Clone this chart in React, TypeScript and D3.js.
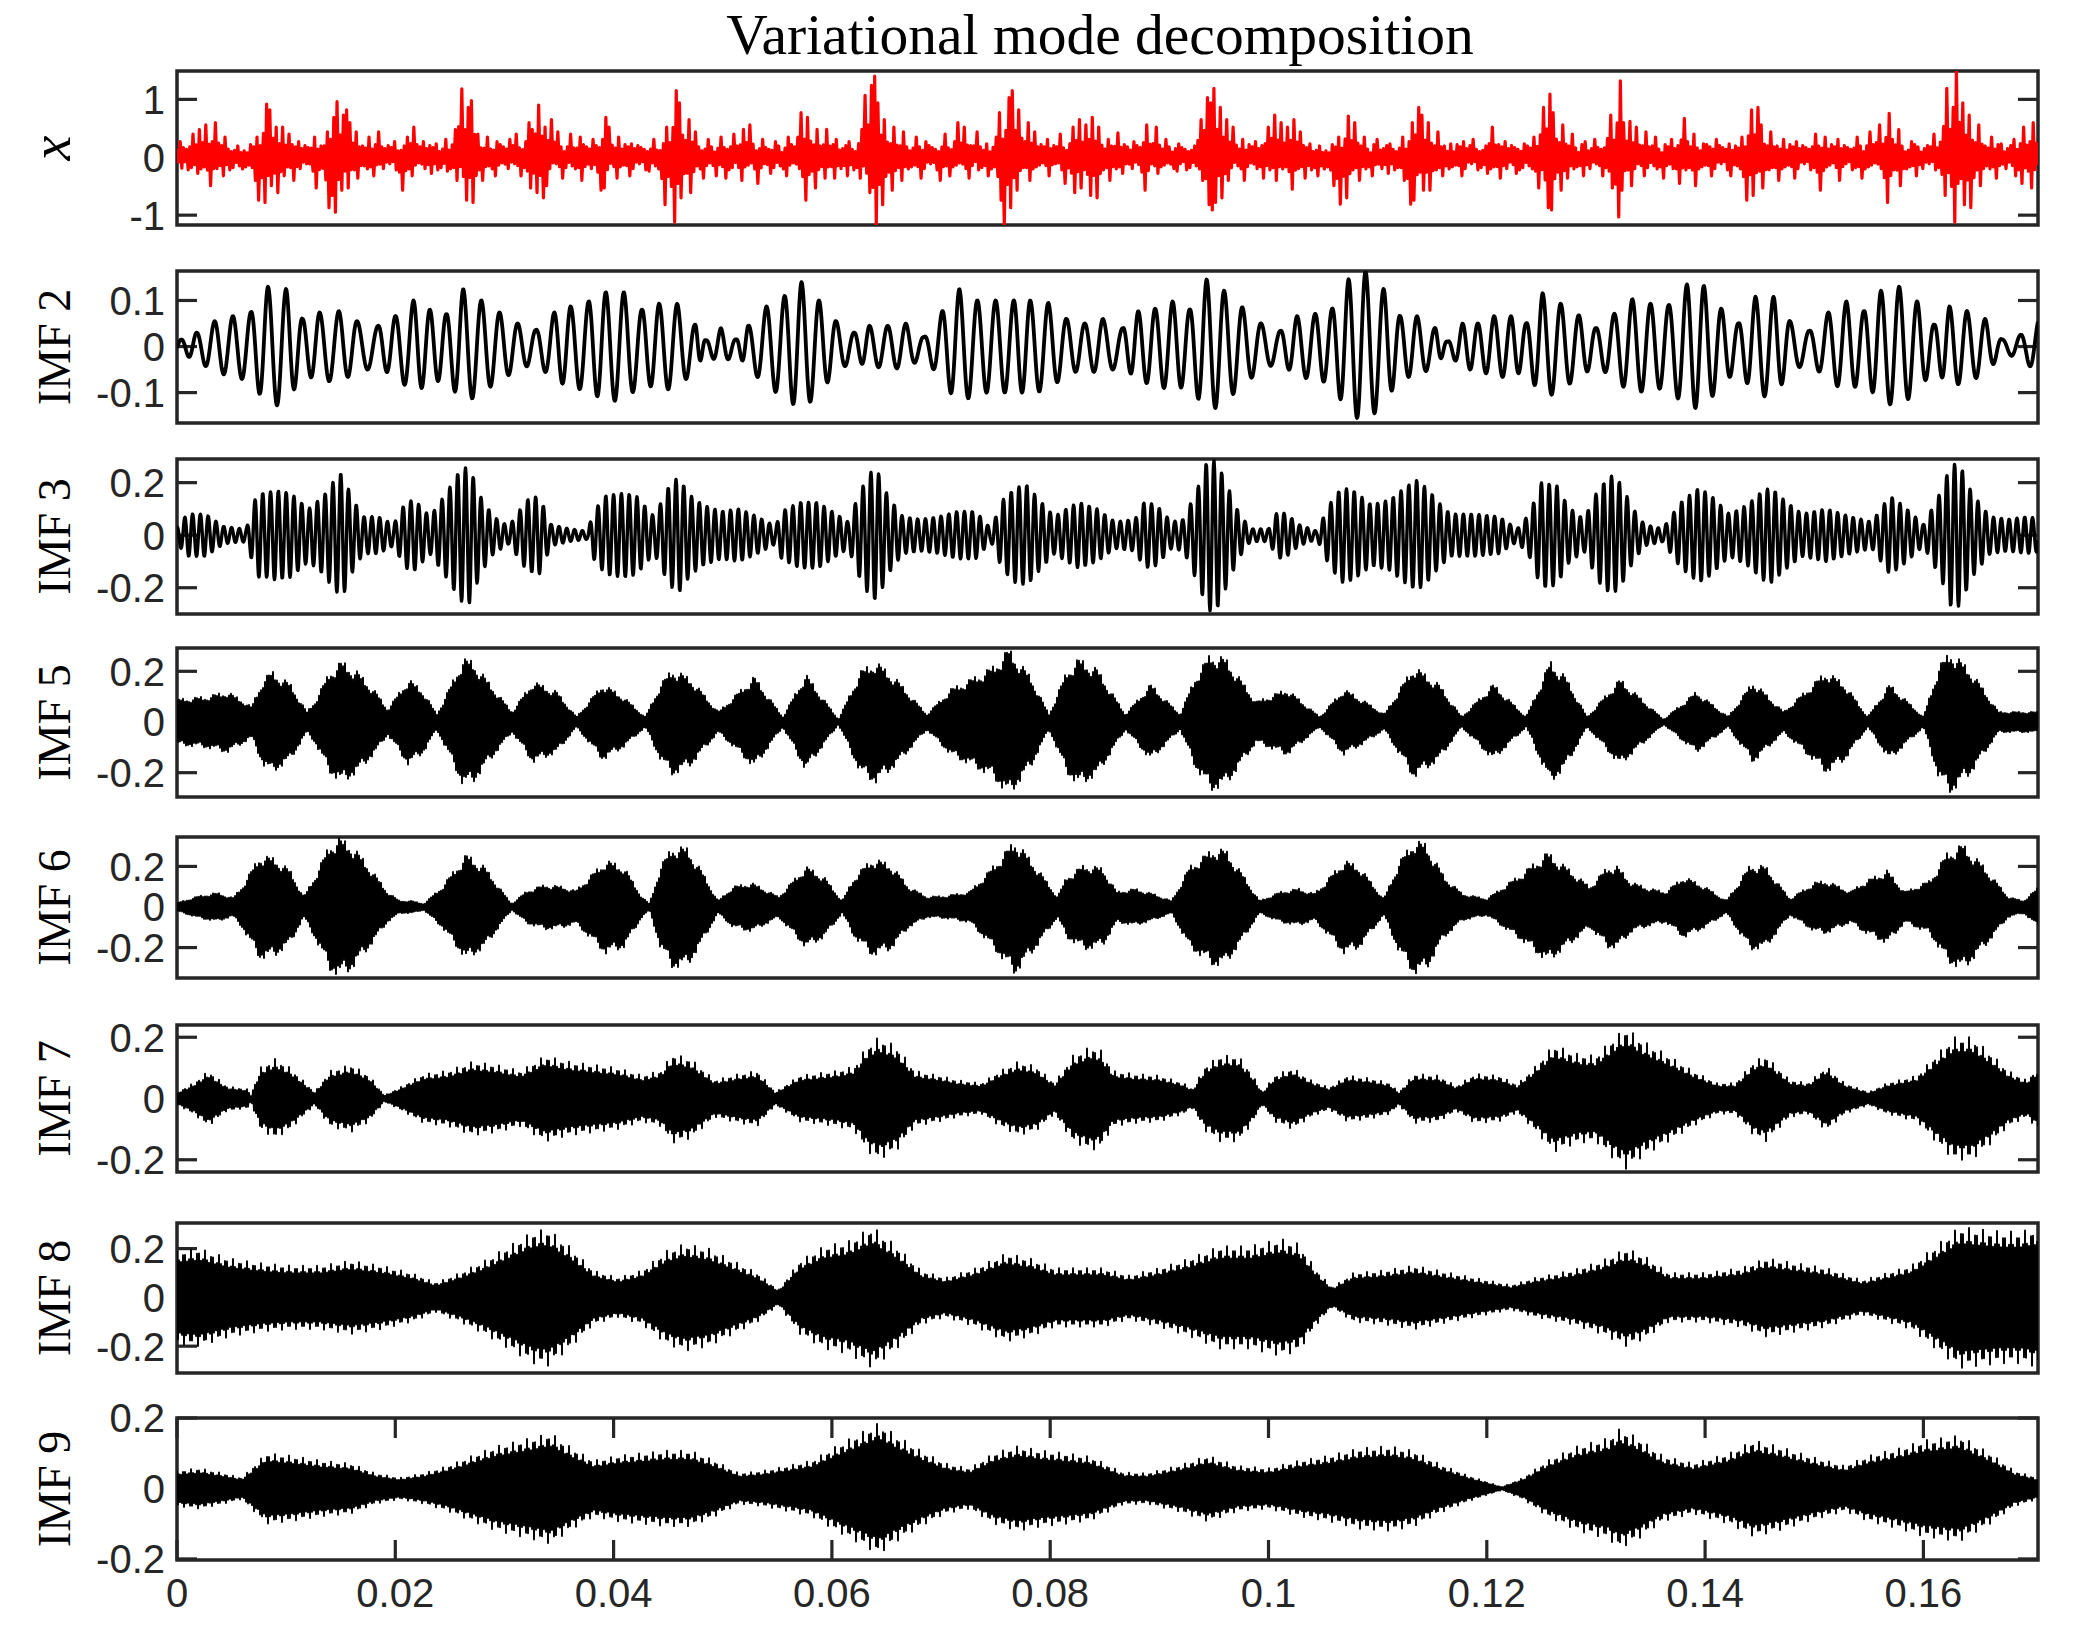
import React from "react";
import * as d3 from "d3";

// ---------------- Data ----------------
const TITLE = "Variational mode decomposition";
const X_END = 0.1705; // seconds, right limit shared by all axes
const X_TICKS = [0, 0.02, 0.04, 0.06, 0.08, 0.1, 0.12, 0.14, 0.16];
const X_TICK_LABELS = ["0", "0.02", "0.04", "0.06", "0.08", "0.1", "0.12", "0.14", "0.16"];

const PANEL_LABELS = ["x", "IMF 2", "IMF 3", "IMF 5", "IMF 6", "IMF 7", "IMF 8", "IMF 9"];
const Y_LIMITS: [number, number][] = [
  [-1.17, 1.49],
  [-0.166, 0.164],
  [-0.3, 0.29],
  [-0.296, 0.292],
  [-0.35, 0.345],
  [-0.24, 0.24],
  [-0.31, 0.305],
  [-0.203, 0.2],
];
const Y_TICKS: number[][] = [
  [-1, 0, 1],
  [-0.1, 0, 0.1],
  [-0.2, 0, 0.2],
  [-0.2, 0, 0.2],
  [-0.2, 0, 0.2],
  [-0.2, 0, 0.2],
  [-0.2, 0, 0.2],
  [-0.2, 0, 0.2],
];

// x (red): spikes [time ms, value]
const X_TOP_SPIKES: [number, number][] = [
  [0.39,0.27],[1.39,0.4],[2.06,0.48],[2.72,0.56],[3.44,0.6],[4.28,0.35],[7.33,0.35],[8.17,0.92],[8.44,0.82],[9.0,0.52],[9.56,0.52],[10.39,0.4],[11.06,0.27],[12.61,0.35],[13.72,0.44],[14.28,0.69],[14.72,0.96],[15.11,0.73],[15.67,0.82],[15.94,0.6],[16.5,0.44],[17.61,0.35],[18.44,0.44],[19.83,0.27],[21.22,0.35],[21.78,0.52],[22.61,0.27],[23.72,0.23],[24.56,0.31],[25.39,0.48],[26.22,1.18],[26.61,0.86],[27.06,0.98],[27.61,0.4],[28.44,0.35],[29.28,0.27],[30.39,0.31],[31.22,0.4],[32.33,0.6],[32.61,0.48],[33.17,0.9],[33.72,0.52],[34.39,0.65],[34.83,0.44],[35.94,0.4],[37.06,0.35],[38.17,0.31],[39.17,0.69],[39.56,0.52],[40.39,0.35],[41.5,0.23],[43.72,0.31],[44.83,0.52],[45.67,1.15],[46.06,0.94],[46.78,0.65],[47.61,0.44],[48.72,0.31],[49.83,0.35],[50.94,0.4],[51.78,0.48],[52.61,0.56],[53.72,0.31],[54.83,0.27],[55.94,0.35],[57.06,0.77],[57.89,0.69],[58.72,0.48],[59.56,0.48],[60.39,0.31],[61.5,0.27],[62.61,0.23],[63.17,1.07],[63.72,1.24],[64.0,1.4],[64.28,0.94],[64.83,0.65],[65.67,0.52],[66.5,0.44],[67.61,0.35],[68.72,0.27],[70.39,0.4],[71.5,0.6],[72.06,0.52],[73.17,0.44],[74.28,0.23],[75.39,0.77],[76.22,1.03],[76.61,1.15],[77.06,0.82],[77.89,0.6],[78.72,0.44],[79.83,0.31],[80.94,0.4],[82.06,0.52],[82.61,0.65],[83.28,0.56],[84.0,0.69],[84.56,0.52],[85.39,0.31],[86.3,0.42],[87.56,0.27],[88.89,0.56],[89.72,0.52],[90.56,0.31],[91.67,0.23],[93.89,0.65],[94.33,1.03],[94.72,0.94],[95.11,1.19],[95.56,0.86],[96.11,0.65],[96.67,0.52],[97.78,0.31],[98.89,0.27],[100.0,0.52],[100.56,0.73],[101.11,0.6],[101.67,0.52],[102.22,0.65],[102.78,0.44],[103.89,0.23],[106.39,0.35],[107.22,0.71],[107.78,0.6],[108.89,0.35],[110.0,0.31],[111.11,0.23],[112.22,0.35],[113.06,0.6],[113.78,0.86],[114.17,0.73],[114.72,0.6],[115.56,0.44],[116.67,0.23],[117.78,0.27],[118.89,0.31],[120.56,0.52],[121.67,0.27],[123.33,0.23],[124.44,0.35],[125.28,0.86],[125.83,1.09],[126.22,0.77],[126.94,0.56],[127.78,0.4],[128.89,0.27],[130.0,0.31],[131.39,0.73],[132.11,1.32],[132.5,0.6],[133.22,0.62],[133.61,0.52],[134.44,0.44],[135.56,0.35],[136.94,0.31],[138.11,0.67],[138.89,0.4],[140.0,0.23],[141.11,0.31],[142.22,0.23],[143.33,0.35],[144.17,0.82],[144.72,0.86],[145.28,0.56],[146.11,0.44],[147.22,0.31],[148.33,0.27],[150.0,0.4],[151.11,0.35],[152.22,0.31],[153.89,0.35],[155.0,0.44],[156.11,0.56],[156.94,0.76],[157.78,0.48],[158.89,0.27],[161.11,0.4],[162.11,1.19],[162.61,0.86],[163.06,1.49],[163.61,0.94],[164.33,0.73],[165.0,0.56],[166.11,0.35],[167.22,0.23],[168.33,0.31],[169.17,0.52],[170.0,0.6],
];
const X_BOTTOM_SPIKES: [number, number][] = [
  [0.39,-0.19],[1.78,-0.28],[3.17,-0.49],[4.28,-0.32],[7.06,-0.4],[7.5,-0.74],[8.17,-0.78],[8.61,-0.49],[9.28,-0.61],[9.94,-0.32],[10.67,-0.4],[12.89,-0.53],[13.83,-0.87],[14.17,-0.66],[14.56,-0.95],[15.11,-0.57],[15.83,-0.53],[16.5,-0.36],[18.17,-0.32],[20.67,-0.57],[21.5,-0.32],[23.17,-0.28],[24.83,-0.24],[25.67,-0.4],[26.61,-0.74],[27.06,-0.78],[27.89,-0.4],[29.28,-0.32],[31.5,-0.32],[32.33,-0.53],[32.89,-0.61],[33.44,-0.7],[34.0,-0.49],[35.39,-0.36],[37.06,-0.4],[38.72,-0.57],[39.28,-0.53],[40.39,-0.36],[41.5,-0.32],[43.17,-0.24],[44.72,-0.82],[45.5,-1.12],[46.22,-0.7],[47.06,-0.61],[48.17,-0.36],[49.28,-0.32],[50.39,-0.36],[51.78,-0.4],[53.17,-0.45],[54.28,-0.28],[55.94,-0.32],[57.72,-0.74],[58.44,-0.53],[59.28,-0.36],[60.39,-0.36],[61.5,-0.32],[62.61,-0.36],[63.44,-0.61],[64.11,-1.16],[64.56,-0.82],[65.39,-0.57],[66.5,-0.4],[68.17,-0.36],[69.83,-0.4],[70.94,-0.32],[72.61,-0.36],[74.28,-0.32],[75.5,-0.74],[75.83,-1.16],[76.5,-0.87],[77.06,-0.57],[78.17,-0.4],[79.83,-0.32],[81.5,-0.45],[82.33,-0.61],[82.89,-0.53],[83.72,-0.66],[84.28,-0.7],[85.39,-0.4],[86.67,-0.28],[88.61,-0.57],[90.0,-0.28],[91.67,-0.24],[94.0,-0.4],[94.44,-0.82],[94.83,-0.91],[95.28,-0.78],[95.83,-0.7],[96.39,-0.4],[97.78,-0.4],[99.44,-0.36],[100.83,-0.4],[102.11,-0.55],[103.33,-0.36],[104.44,-0.32],[106.11,-0.49],[106.56,-0.81],[107.22,-0.7],[108.33,-0.4],[109.44,-0.32],[111.11,-0.28],[112.5,-0.4],[112.89,-0.81],[113.44,-0.74],[114.17,-0.57],[114.89,-0.57],[116.11,-0.32],[117.78,-0.32],[120.0,-0.28],[121.11,-0.36],[122.78,-0.28],[124.72,-0.53],[125.56,-0.87],[126.0,-0.91],[126.67,-0.57],[127.5,-0.36],[128.89,-0.32],[130.56,-0.32],[131.56,-0.53],[132.11,-1.03],[132.5,-0.57],[133.33,-0.49],[134.44,-0.32],[136.11,-0.36],[137.78,-0.45],[139.17,-0.49],[140.56,-0.32],[142.22,-0.32],[143.78,-0.74],[144.44,-0.66],[145.28,-0.53],[146.67,-0.4],[148.33,-0.36],[150.56,-0.57],[152.22,-0.4],[154.44,-0.36],[156.67,-0.78],[157.78,-0.49],[159.44,-0.32],[162.11,-0.66],[162.89,-1.12],[163.61,-0.82],[164.33,-0.87],[165.28,-0.49],[166.67,-0.36],[168.33,-0.32],[169.17,-0.45],[170.0,-0.53],
];
const X_BAND = 0.15; // half-width of the dense red core
const X_BAND_TEXTURE = [1, 0.55, 1.35, 0.75, 1.1, 0.5, 0.9, 1.45, 0.65, 1.2, 0.8, 0.6, 1.3];
const X_SPIKE_SHOULDERS = [0.45, 0.22]; // neighbours of a spike (same sign), as a fraction of it

// IMF 2: individual peaks [time ms, amplitude]
const IMF2_PEAKS: [number, number][] = [
  [0.39,0.015],[1.78,0.03],[3.44,0.055],[5.11,0.066],[6.78,0.075],[8.33,0.13],[10.0,0.125],[11.5,0.06],[13.06,0.074],[14.83,0.077],[16.5,0.055],[18.44,0.045],[20.0,0.066],[21.67,0.1],[23.17,0.08],[24.67,0.07],[26.22,0.125],[27.89,0.1],[29.56,0.074],[31.22,0.05],[32.89,0.036],[34.56,0.074],[36.06,0.087],[37.72,0.098],[39.28,0.118],[40.94,0.118],[42.61,0.08],[44.17,0.093],[45.83,0.093],[47.5,0.047],[48.44,0.013],[49.83,0.04],[51.22,0.015],[52.33,0.045],[54.0,0.087],[55.67,0.11],[57.22,0.14],[58.83,0.1],[60.39,0.055],[62.06,0.03],[63.44,0.045],[65.11,0.045],[66.78,0.05],[68.44,0.02],[70.11,0.077],[71.67,0.125],[73.33,0.1],[75.0,0.1],[76.67,0.1],[78.17,0.1],[79.83,0.095],[81.5,0.06],[83.17,0.05],[84.83,0.06],[86.67,0.04],[88.06,0.077],[89.61,0.082],[91.22,0.098],[92.78,0.08],[94.33,0.146],[95.94,0.121],[97.61,0.085],[99.33,0.05],[101.11,0.034],[102.61,0.066],[104.28,0.071],[105.83,0.082],[107.33,0.146],[108.89,0.164],[110.56,0.125],[112.06,0.066],[113.61,0.066],[115.28,0.04],[116.39,0.01],[117.78,0.05],[119.17,0.05],[120.67,0.066],[122.22,0.066],[123.61,0.05],[125.11,0.116],[126.78,0.093],[128.44,0.068],[130.0,0.04],[131.67,0.071],[133.33,0.103],[135.0,0.093],[136.67,0.09],[138.33,0.135],[139.89,0.132],[141.5,0.082],[143.06,0.05],[144.61,0.108],[146.28,0.108],[147.78,0.055],[149.56,0.034],[151.28,0.074],[152.94,0.098],[154.56,0.077],[156.11,0.121],[157.78,0.13],[159.44,0.098],[161.0,0.047],[162.39,0.087],[164.0,0.077],[165.67,0.06],[167.22,0.015],[168.89,0.025],[170.6,0.06],
];

// IMF 3: envelope [time ms, amplitude], oscillation frequency (Hz)
const IMF3_FREQ = 1400;
const IMF3_ENVELOPE: [number, number][] = [
  [0,0.03],[0.94,0.08],[2.61,0.08],[4.28,0.033],[5.94,0.024],[6.39,0.03],[7.33,0.16],[8.17,0.16],[9.0,0.17],[10.39,0.16],[12.06,0.1],[13.44,0.15],[14.28,0.2],[15.11,0.24],[15.94,0.15],[17.06,0.07],[18.44,0.07],[19.83,0.04],[20.94,0.125],[21.78,0.134],[23.17,0.07],[24.83,0.17],[25.94,0.25],[26.78,0.26],[27.89,0.14],[29.0,0.07],[30.39,0.033],[32.06,0.134],[33.17,0.15],[34.28,0.04],[35.94,0.024],[37.61,0.015],[38.17,0.09],[39.28,0.15],[40.94,0.16],[42.06,0.15],[43.72,0.07],[45.11,0.19],[45.94,0.22],[47.06,0.15],[48.17,0.115],[49.83,0.09],[51.5,0.1],[53.17,0.07],[54.83,0.033],[55.39,0.09],[57.06,0.125],[58.72,0.125],[60.39,0.08],[61.5,0.05],[62.61,0.17],[63.72,0.25],[64.28,0.235],[65.11,0.15],[66.5,0.07],[68.17,0.06],[69.83,0.07],[71.5,0.09],[73.17,0.09],[74.56,0.024],[75.67,0.134],[76.78,0.18],[77.89,0.19],[79.0,0.134],[80.39,0.07],[81.5,0.1],[82.61,0.125],[84.28,0.1],[85.94,0.05],[87.78,0.06],[88.61,0.125],[89.72,0.115],[91.11,0.05],[92.22,0.06],[93.61,0.19],[94.44,0.29],[95.28,0.28],[96.11,0.2],[97.22,0.09],[98.33,0.024],[100,0.024],[100.83,0.09],[101.67,0.08],[102.78,0.04],[104.44,0.015],[105.56,0.115],[106.67,0.18],[107.78,0.17],[109.44,0.115],[111.11,0.134],[112.78,0.19],[113.61,0.21],[114.72,0.17],[115.56,0.125],[116.67,0.08],[118.89,0.08],[121.11,0.07],[122.78,0.024],[123.89,0.08],[125.0,0.2],[126.39,0.19],[127.5,0.106],[128.89,0.06],[130.28,0.18],[131.39,0.226],[132.22,0.2],[133.33,0.106],[134.44,0.04],[136.11,0.024],[137.78,0.125],[139.44,0.18],[140.56,0.15],[142.22,0.08],[143.89,0.115],[145.28,0.17],[146.11,0.18],[147.22,0.134],[148.89,0.08],[151.11,0.1],[153.33,0.07],[155.28,0.05],[156.94,0.15],[158.33,0.106],[160.0,0.04],[161.67,0.17],[162.5,0.27],[163.33,0.27],[164.44,0.16],[166.11,0.07],[167.78,0.06],[169.44,0.07],[171,0.06],
];

// IMF 5 - IMF 9: dense modes, envelope [time ms, amplitude]
const IMF5_ENVELOPE: [number, number][] = [
  [0,0.09],[2.6,0.1],[4.6,0.12],[6.2,0.08],[6.8,0.06],[7.9,0.17],[8.7,0.2],[10.4,0.15],[11.9,0.04],[12.6,0.08],[14.0,0.2],[15.1,0.24],[16.5,0.2],[18.2,0.12],[19.3,0.05],[21.2,0.17],[22.6,0.12],[23.8,0.03],[24.8,0.12],[26.2,0.25],[27.1,0.24],[28.7,0.15],[30.7,0.04],[32.6,0.16],[34.8,0.12],[36.6,0.02],[39.0,0.15],[40.9,0.1],[42.9,0.02],[44.3,0.15],[45.4,0.21],[47.1,0.17],[49.6,0.04],[52.9,0.18],[55.5,0.02],[57.6,0.19],[60.6,0.01],[62.6,0.2],[64.0,0.24],[65.9,0.17],[68.7,0.03],[70.9,0.13],[73.2,0.18],[74.8,0.22],[76.2,0.29],[78.2,0.18],[79.9,0.03],[81.5,0.2],[82.6,0.25],[84.3,0.21],[86.9,0.03],[89.2,0.15],[91.9,0.03],[93.3,0.18],[94.7,0.27],[96.1,0.25],[98.9,0.08],[101.7,0.13],[104.7,0.02],[106.9,0.13],[108.9,0.08],[110.6,0.03],[113.3,0.22],[115.6,0.15],[117.7,0.02],[120.6,0.15],[123.6,0.02],[125.8,0.24],[127.2,0.18],[129.2,0.02],[132.2,0.17],[136.2,0.01],[139.2,0.12],[142.1,0.02],[144.4,0.16],[147.2,0.04],[151.1,0.2],[152.8,0.15],[154.9,0.02],[156.9,0.15],[160.0,0.02],[161.4,0.22],[162.5,0.28],[164.4,0.2],[166.9,0.04],[171,0.04],
];
const IMF6_ENVELOPE: [number, number][] = [
  [0,0.02],[2.06,0.055],[3.72,0.07],[5.11,0.045],[5.94,0.1],[7.61,0.255],[9.0,0.24],[10.39,0.18],[11.61,0.05],[12.61,0.15],[14.0,0.31],[14.83,0.34],[15.94,0.31],[17.61,0.2],[19.28,0.075],[20.39,0.03],[21.5,0.03],[22.61,0.015],[24.28,0.1],[26.5,0.26],[28.17,0.2],[29.83,0.075],[30.67,0.015],[32.06,0.08],[33.72,0.11],[35.39,0.1],[36.5,0.08],[38.17,0.17],[39.28,0.23],[40.94,0.2],[42.61,0.05],[43.28,0.015],[44.28,0.2],[45.39,0.3],[46.78,0.29],[48.17,0.17],[49.56,0.03],[50.94,0.1],[52.61,0.12],[54.28,0.075],[55.11,0.05],[57.61,0.2],[59.28,0.15],[60.94,0.03],[62.06,0.15],[63.72,0.24],[65.39,0.21],[67.06,0.1],[68.72,0.05],[70.39,0.055],[72.61,0.075],[74.28,0.17],[76.78,0.33],[78.72,0.2],[80.67,0.05],[81.5,0.15],[83.17,0.21],[84.83,0.19],[86.11,0.075],[87.78,0.09],[89.44,0.065],[91.11,0.03],[92.78,0.2],[95.0,0.29],[96.11,0.28],[97.78,0.15],[99.17,0.03],[101.11,0.075],[102.78,0.09],[104.17,0.065],[105.0,0.11],[106.94,0.23],[108.33,0.2],[110.56,0.04],[111.94,0.22],[113.33,0.33],[114.44,0.31],[116.11,0.15],[117.78,0.065],[120.0,0.04],[123.33,0.17],[125.56,0.27],[127.22,0.2],[129.44,0.1],[131.11,0.2],[131.94,0.2],[133.33,0.12],[135.0,0.09],[136.39,0.075],[138.06,0.15],[140.0,0.1],[141.94,0.03],[144.17,0.21],[145.56,0.2],[147.78,0.04],[150.0,0.12],[151.11,0.13],[153.33,0.075],[154.44,0.12],[156.67,0.18],[158.33,0.075],[160.56,0.13],[162.22,0.27],[163.61,0.31],[165.56,0.2],[167.78,0.05],[169.17,0.03],[171,0.12],
];
const IMF7_ENVELOPE: [number, number][] = [
  [0,0.02],[1.5,0.05],[2.89,0.09],[4.56,0.04],[6.5,0.03],[6.78,0.01],[7.61,0.1],[9.0,0.13],[10.39,0.1],[12.06,0.04],[12.61,0.02],[14.0,0.09],[15.94,0.11],[17.61,0.075],[19.0,0.01],[20.39,0.035],[22.61,0.08],[24.83,0.09],[27.06,0.12],[29.28,0.11],[31.5,0.09],[33.72,0.14],[35.94,0.12],[38.17,0.11],[40.39,0.1],[42.61,0.075],[44.28,0.09],[45.39,0.145],[47.06,0.13],[49.28,0.06],[51.5,0.08],[53.17,0.09],[54.83,0.02],[57.06,0.075],[60.39,0.09],[62.06,0.105],[63.17,0.17],[64.28,0.2],[65.94,0.17],[67.61,0.09],[69.83,0.075],[71.5,0.06],[73.72,0.05],[75.39,0.09],[77.06,0.12],[78.72,0.105],[80.39,0.05],[82.06,0.14],[83.72,0.17],[84.6,0.16],[85.8,0.09],[87.78,0.08],[90.0,0.075],[92.22,0.05],[93.06,0.03],[94.17,0.105],[95.56,0.14],[97.22,0.14],[98.33,0.09],[99.44,0.02],[100.56,0.075],[102.22,0.1],[103.89,0.06],[105.56,0.035],[107.22,0.075],[109.44,0.065],[111.11,0.05],[111.94,0.02],[113.33,0.08],[115.56,0.075],[117.22,0.04],[118.89,0.08],[121.11,0.075],[122.78,0.045],[124.44,0.105],[126.11,0.175],[128.33,0.145],[130.0,0.14],[131.67,0.2],[132.78,0.23],[134.44,0.185],[136.67,0.14],[138.89,0.09],[141.11,0.05],[142.78,0.05],[144.44,0.12],[145.56,0.14],[147.78,0.06],[149.44,0.05],[151.11,0.105],[152.78,0.05],[155.0,0.02],[156.67,0.05],[159.44,0.075],[161.11,0.14],[162.78,0.2],[164.44,0.2],[166.11,0.15],[167.78,0.09],[169.44,0.06],[171,0.12],
];
const IMF8_ENVELOPE: [number, number][] = [
  [0,0.19],[2.06,0.2],[4.83,0.16],[7.61,0.14],[10.39,0.13],[13.17,0.13],[15.94,0.15],[18.72,0.13],[21.5,0.1],[23.72,0.06],[25.94,0.1],[28.17,0.15],[30.39,0.21],[32.61,0.27],[34.0,0.28],[35.94,0.21],[38.17,0.11],[40.39,0.08],[42.61,0.11],[44.83,0.19],[46.5,0.22],[48.72,0.2],[50.94,0.15],[53.17,0.1],[55.11,0.03],[57.06,0.15],[59.28,0.21],[61.5,0.23],[63.72,0.29],[65.94,0.21],[68.17,0.11],[70.39,0.08],[73.17,0.12],[75.94,0.18],[78.17,0.16],[80.39,0.12],[82.61,0.12],[84.83,0.12],[87.22,0.09],[90.0,0.12],[92.78,0.16],[95.56,0.21],[98.33,0.21],[101.11,0.24],[102.78,0.22],[104.44,0.11],[105.83,0.04],[107.78,0.1],[110.56,0.11],[113.33,0.13],[115.56,0.11],[118.89,0.08],[122.22,0.05],[124.44,0.08],[127.78,0.11],[130.56,0.15],[132.78,0.2],[134.44,0.17],[136.67,0.1],[140.0,0.1],[143.33,0.12],[145.56,0.16],[148.33,0.14],[151.11,0.12],[154.44,0.07],[156.67,0.1],[158.89,0.13],[161.11,0.21],[163.33,0.29],[165.0,0.28],[167.22,0.27],[168.89,0.27],[171,0.29],
];
const IMF9_ENVELOPE: [number, number][] = [
  [0,0.05],[2.06,0.057],[4.28,0.043],[5.94,0.03],[7.06,0.065],[8.17,0.1],[10.39,0.093],[13.17,0.079],[15.94,0.071],[18.17,0.043],[20.39,0.03],[22.61,0.043],[24.83,0.064],[27.06,0.093],[29.28,0.12],[31.5,0.136],[34.28,0.157],[35.94,0.12],[38.17,0.079],[40.39,0.093],[42.61,0.1],[44.83,0.107],[47.06,0.107],[49.28,0.079],[51.5,0.043],[53.72,0.05],[55.94,0.064],[58.17,0.079],[60.39,0.12],[62.61,0.157],[64.28,0.186],[65.94,0.15],[68.17,0.107],[70.39,0.071],[72.61,0.057],[74.83,0.1],[77.06,0.12],[79.28,0.107],[81.5,0.1],[83.72,0.09],[86.67,0.045],[88.89,0.043],[91.67,0.064],[94.44,0.093],[97.22,0.064],[100,0.057],[102.78,0.079],[105.56,0.093],[108.33,0.114],[111.11,0.12],[113.33,0.107],[115.56,0.071],[118.33,0.036],[121.39,0.004],[123.33,0.03],[125.56,0.079],[128.33,0.12],[131.11,0.143],[132.22,0.17],[133.89,0.143],[136.11,0.093],[138.89,0.071],[142.22,0.1],[144.44,0.136],[146.67,0.12],[149.44,0.093],[152.78,0.064],[155.0,0.093],[157.78,0.114],[160.0,0.136],[163.33,0.15],[166.11,0.1],[168.33,0.05],[171,0.025],
];
const DENSE_ENVELOPES = [IMF5_ENVELOPE, IMF6_ENVELOPE, IMF7_ENVELOPE, IMF8_ENVELOPE, IMF9_ENVELOPE];
// texture of the dense bands' edges (fraction of envelope per sample)
const TEXTURE_FINE = [1, 0.88, 0.97, 0.84, 0.93, 0.8, 1, 0.9, 0.86];
const TEXTURE_TEETH = [1, 0.9, 0.8, 0.76, 0.76, 0.8, 0.9];
const DENSE_TEXTURES = [TEXTURE_FINE, TEXTURE_FINE, TEXTURE_TEETH, TEXTURE_TEETH, TEXTURE_TEETH];

// ---------------- Layout ----------------
const W = 2073;
const H = 1640;
const L = 177;
const R = 2038;
const PANEL_Y: [number, number][] = [
  [71, 225],
  [271, 423],
  [459, 614],
  [648, 797],
  [837, 978],
  [1025, 1172],
  [1223, 1373],
  [1418, 1560],
];
const AXIS_COLOR = "#262626";
const TICK_LEN = 20;
const SANS = "'Liberation Sans', Arial, Helvetica, sans-serif";
const SERIF = "'Liberation Serif', 'Times New Roman', Times, serif";

type Pt = [number, number];

function envScale(env: Pt[]) {
  return d3
    .scaleLinear()
    .domain(env.map((d) => d[0]))
    .range(env.map((d) => d[1]))
    .clamp(true);
}

function redSeries(): Pt[] {
  const step = 1.6;
  const n = Math.round((R - L) / step);
  const vals: number[] = [];
  for (let i = 0; i <= n; i++) {
    const b = X_BAND * X_BAND_TEXTURE[i % X_BAND_TEXTURE.length];
    vals.push(i % 2 === 0 ? b : -b);
  }
  const setAt = (idx: number, v: number) => {
    if (idx < 0 || idx > n) return;
    vals[idx] = v > 0 ? Math.max(vals[idx], v) : Math.min(vals[idx], v);
  };
  const place = (ms: number, v: number, parity: number) => {
    const f = (ms / 1000 / X_END) * n;
    let idx = Math.round(f);
    if (((idx % 2) + 2) % 2 !== parity) idx += f > idx ? 1 : -1;
    while (idx > n) idx -= 2;
    while (idx < 0) idx += 2;
    setAt(idx, v);
    X_SPIKE_SHOULDERS.forEach((k, s) => {
      setAt(idx - 2 * (s + 1), v * k);
      setAt(idx + 2 * (s + 1), v * k * 0.9);
    });
  };
  X_TOP_SPIKES.forEach(([ms, v]) => place(ms, v, 0));
  X_BOTTOM_SPIKES.forEach(([ms, v]) => place(ms, v, 1));
  return vals.map((v, i) => [(i / n) * X_END, v] as Pt);
}

function peakSeries(peaks: Pt[]): Pt[] {
  const step = 0.5;
  const n = Math.round((R - L) / step);
  const pt = peaks.map((p) => p[0]);
  const amp = envScale(peaks);
  const out: Pt[] = [];
  for (let i = 0; i <= n; i++) {
    const t = (i / n) * X_END;
    const ms = t * 1000;
    let j = d3.bisectRight(pt, ms) - 1;
    if (j < 0) j = 0;
    if (j > pt.length - 2) j = pt.length - 2;
    const ph = (2 * Math.PI * (ms - pt[j])) / (pt[j + 1] - pt[j]);
    out.push([t, amp(ms) * Math.cos(ph)]);
  }
  return out;
}

function carrierSeries(env: Pt[], freq: number): Pt[] {
  const step = 0.5;
  const n = Math.round((R - L) / step);
  const amp = envScale(env);
  const out: Pt[] = [];
  for (let i = 0; i <= n; i++) {
    const t = (i / n) * X_END;
    out.push([t, amp(t * 1000) * Math.cos(2 * Math.PI * freq * t)]);
  }
  return out;
}

function denseSeries(env: Pt[], tex: number[]): Pt[] {
  const step = 1.0;
  const n = Math.round((R - L) / step);
  const amp = envScale(env);
  const out: Pt[] = [];
  for (let i = 0; i <= n; i++) {
    const t = (i / n) * X_END;
    const a = amp(t * 1000) * tex[i % tex.length];
    out.push([t, i % 2 === 0 ? a : -a]);
  }
  return out;
}

export default function App() {
  const x = d3.scaleLinear().domain([0, X_END]).range([L, R]);

  const panels = PANEL_LABELS.map((label, i) => {
    const [top, bottom] = PANEL_Y[i];
    const y = d3.scaleLinear().domain(Y_LIMITS[i]).range([bottom, top]);
    let pts: Pt[];
    let color = "#000000";
    let width = 3;
    if (i === 0) {
      pts = redSeries();
      color = "#ff0000";
      width = 3.2;
    } else if (i === 1) {
      pts = peakSeries(IMF2_PEAKS);
      width = 3.8;
    } else if (i === 2) {
      pts = carrierSeries(IMF3_ENVELOPE, IMF3_FREQ);
      width = 3.4;
    } else {
      pts = denseSeries(DENSE_ENVELOPES[i - 3], DENSE_TEXTURES[i - 3]);
      width = 1.9;
    }
    const line = d3
      .line<Pt>()
      .x((d) => x(d[0]))
      .y((d) => y(d[1]));
    return { label, top, bottom, y, d: line(pts) || "", color, width, ticks: Y_TICKS[i] };
  });

  const isLast = (i: number) => i === panels.length - 1;

  return (
    <svg
      width={W}
      height={H}
      viewBox={`0 0 ${W} ${H}`}
      style={{ position: "absolute", left: 0, top: 0, background: "#ffffff" }}
    >
      <rect x={0} y={0} width={W} height={H} fill="#ffffff" />
      <defs>
        {panels.map((p, i) => (
          <clipPath id={`clip${i}`} key={i}>
            <rect x={L} y={p.top} width={R - L} height={p.bottom - p.top} />
          </clipPath>
        ))}
      </defs>
      <text
        x={1100}
        y={54}
        textAnchor="middle"
        fontFamily={SERIF}
        fontSize={57.5}
        fill="#000"
      >
        {TITLE}
      </text>
      {panels.map((p, i) => (
        <g key={i}>
          {p.ticks.map((v) => (
            <g key={v}>
              <line x1={L} x2={L + TICK_LEN} y1={p.y(v)} y2={p.y(v)} stroke={AXIS_COLOR} strokeWidth={3.2} />
              <line x1={R} x2={R - TICK_LEN} y1={p.y(v)} y2={p.y(v)} stroke={AXIS_COLOR} strokeWidth={3.2} />
              <text
                x={L - 12}
                y={p.y(v)}
                dy="0.36em"
                textAnchor="end"
                fontFamily={SANS}
                fontSize={40}
                fill={AXIS_COLOR}
              >
                {String(v)}
              </text>
            </g>
          ))}
          {isLast(i) &&
            X_TICKS.map((v, k) => (
              <g key={`xt${k}`}>
                <line x1={x(v)} x2={x(v)} y1={p.bottom} y2={p.bottom - TICK_LEN} stroke={AXIS_COLOR} strokeWidth={3.2} />
                <line x1={x(v)} x2={x(v)} y1={p.top} y2={p.top + TICK_LEN} stroke={AXIS_COLOR} strokeWidth={3.2} />
                <text
                  x={x(v)}
                  y={p.bottom + 47}
                  textAnchor="middle"
                  fontFamily={SANS}
                  fontSize={40}
                  fill={AXIS_COLOR}
                >
                  {X_TICK_LABELS[k]}
                </text>
              </g>
            ))}
          <rect
            x={L}
            y={p.top}
            width={R - L}
            height={p.bottom - p.top}
            fill="none"
            stroke={AXIS_COLOR}
            strokeWidth={3.5}
          />
          <path
            d={p.d}
            fill="none"
            stroke={p.color}
            strokeWidth={p.width}
            strokeLinejoin="round"
            clipPath={`url(#clip${i})`}
          />
          <text
            transform={`translate(70, ${(p.top + p.bottom) / 2}) rotate(-90)`}
            textAnchor="middle"
            fontFamily={SERIF}
            fontSize={i === 0 ? 56 : 46}
            fontStyle={i === 0 ? "italic" : "normal"}
            fill="#000"
          >
            {p.label}
          </text>
        </g>
      ))}
    </svg>
  );
}
